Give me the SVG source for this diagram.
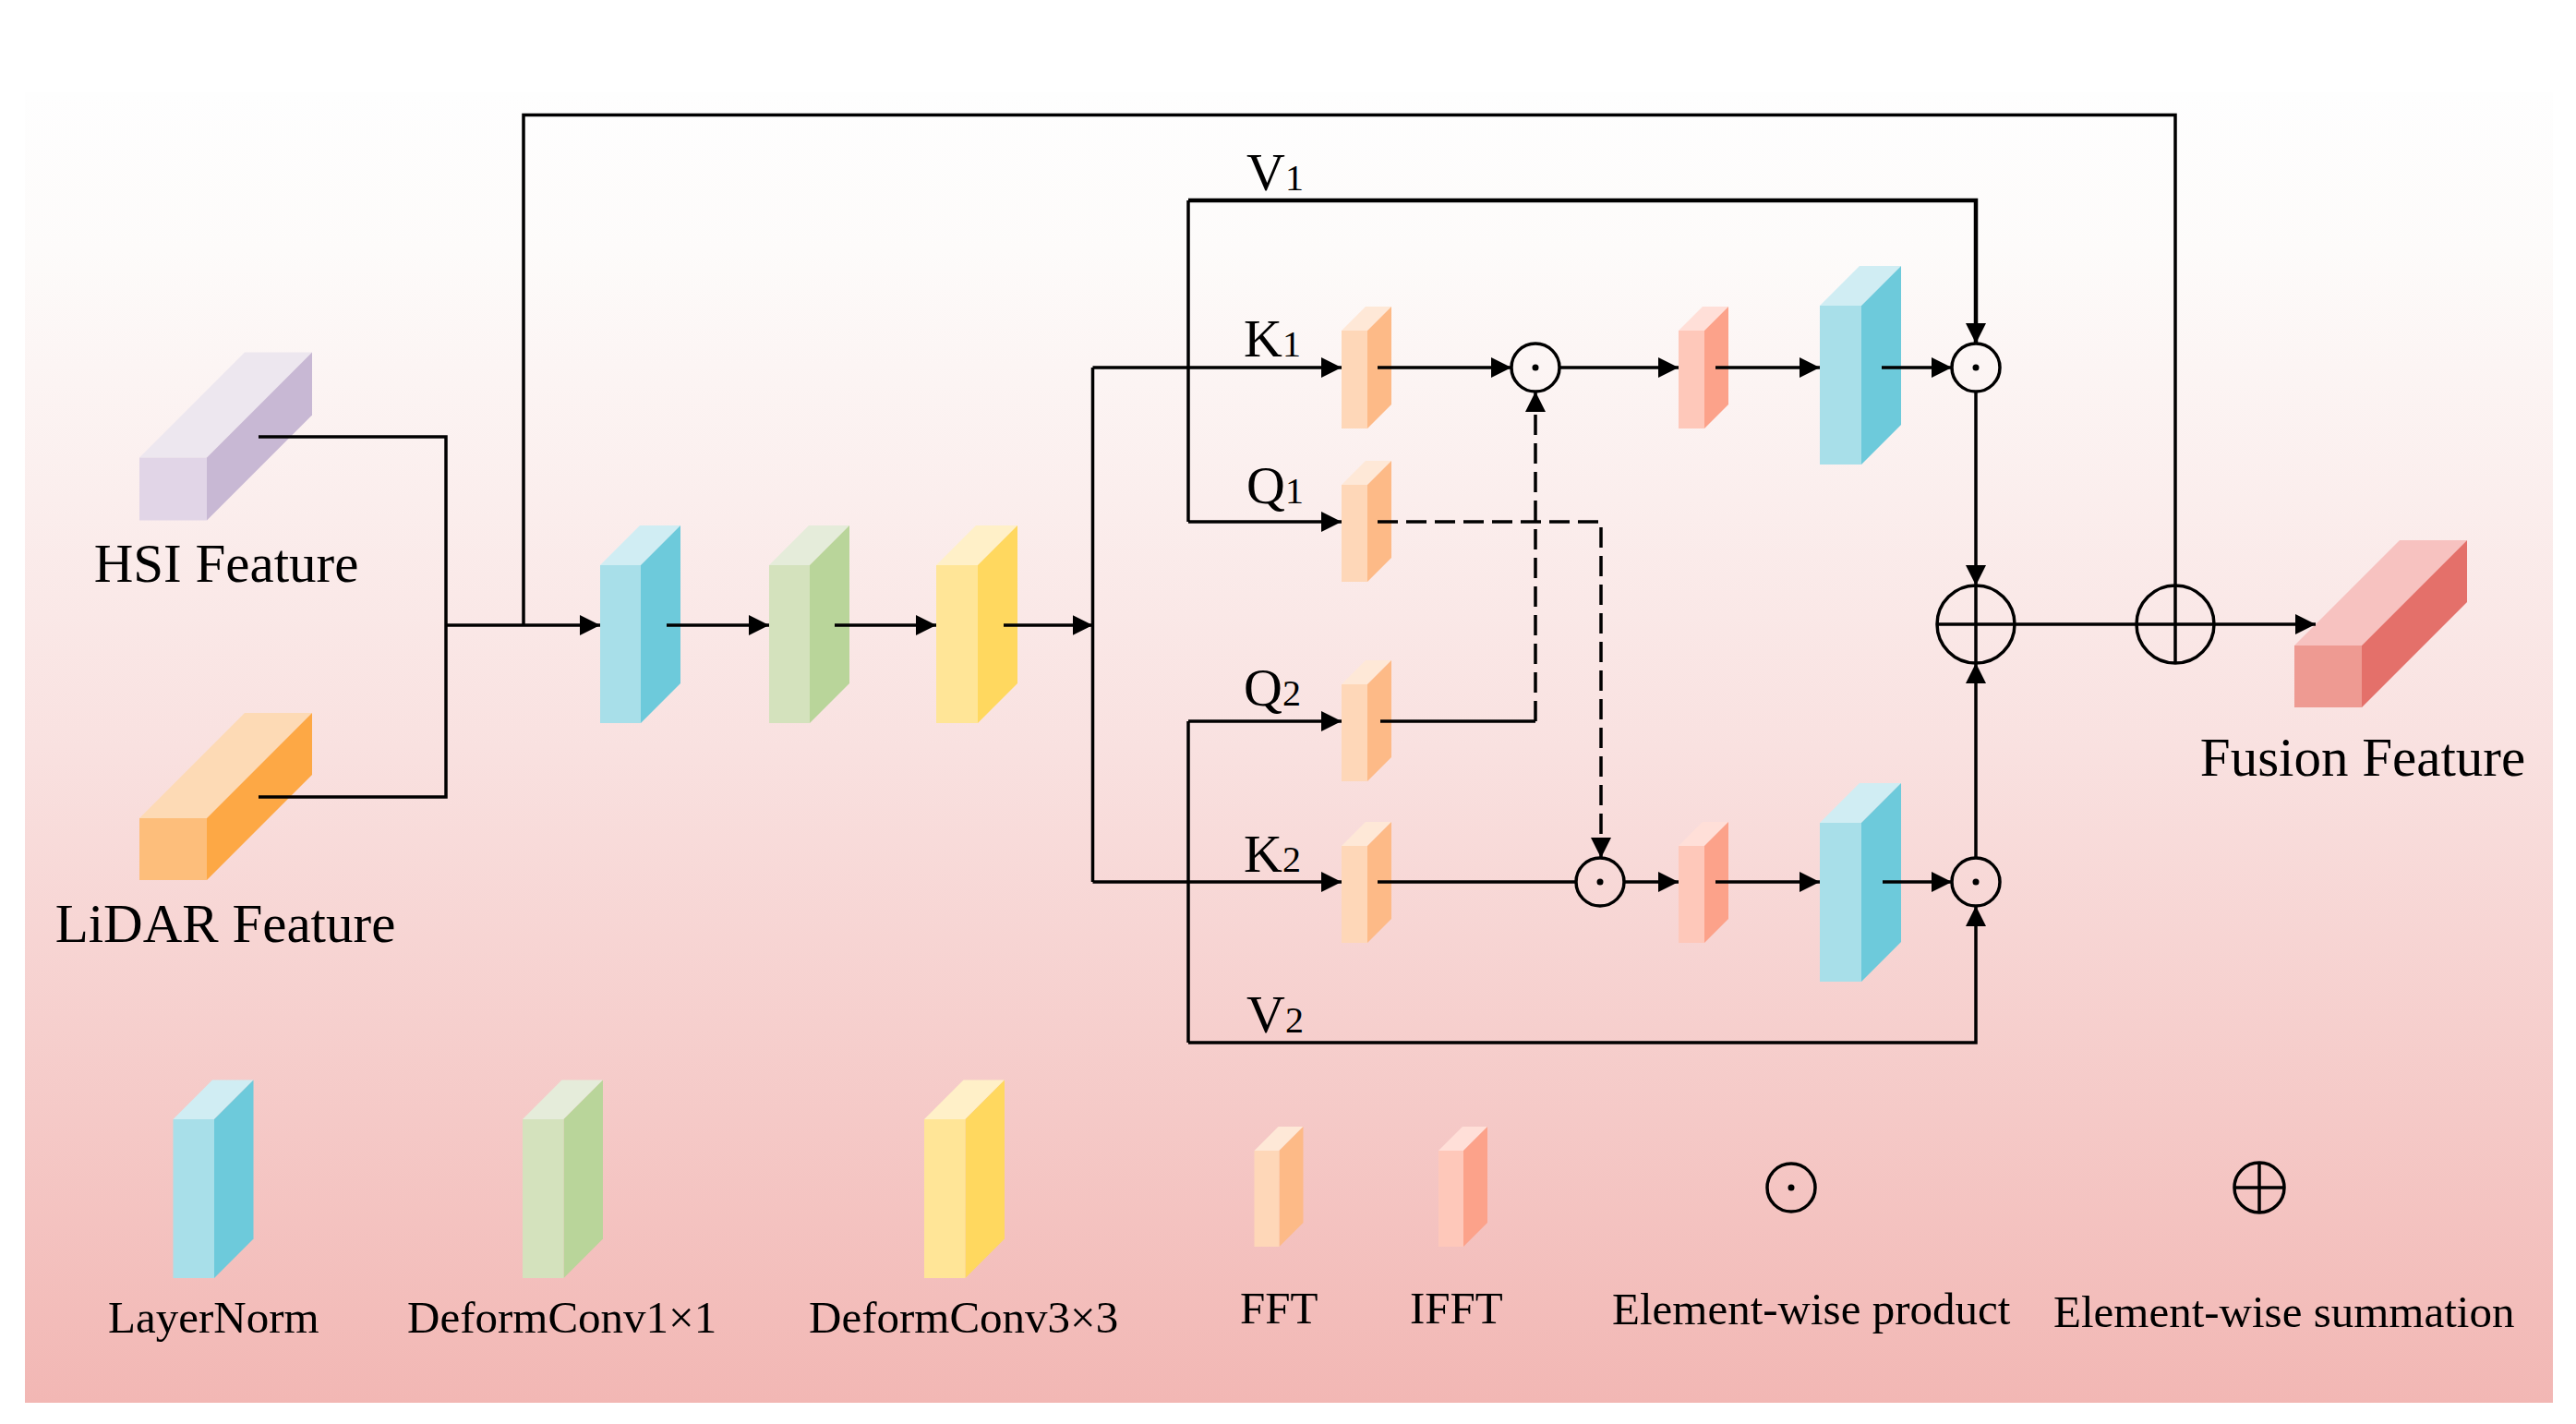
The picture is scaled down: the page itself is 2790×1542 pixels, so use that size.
<svg xmlns="http://www.w3.org/2000/svg" width="2790" height="1542" viewBox="0 0 2790 1542">
<defs>
<linearGradient id="bg" x1="0" y1="0" x2="0" y2="1">
<stop offset="0" stop-color="#FEFEFE"/>
<stop offset="0.12" stop-color="#FDFBFA"/>
<stop offset="0.5" stop-color="#F9E1E0"/>
<stop offset="1" stop-color="#F2B7B4"/>
</linearGradient>
<marker id="ah" viewBox="0 0 22 22" refX="22" refY="11" markerWidth="22" markerHeight="22" markerUnits="userSpaceOnUse" orient="auto">
<path d="M0,0 L22,11 L0,22 z" fill="#000"/>
</marker>
</defs>
<style>
.ln{fill:none;stroke:#000;stroke-width:3.5}
.da{fill:none;stroke:#000;stroke-width:3.5;stroke-dasharray:22 9}
.arr{marker-end:url(#ah)}
.op{fill:none;stroke:#000;stroke-width:3.5}
.dot{fill:#000}
.t{font-family:"Liberation Serif","Times New Roman",serif;fill:#000}
.big{font-size:59px}
.lab{font-size:58px}
.sub{font-size:40px}
.leg{font-size:49px}
.lnT{fill:#D0EDF3}.lnF{fill:#A8DFE9}.lnS{fill:#6DCADB}
.gT{fill:#E5ECDA}.gF{fill:#D4E2BD}.gS{fill:#B9D59A}
.yT{fill:#FFF0C8}.yF{fill:#FFE597}.yS{fill:#FFD85F}
.fT{fill:#FEE8D7}.fF{fill:#FED7B8}.fS{fill:#FDBA87}
.iT{fill:#FFDFD8}.iF{fill:#FEC8BA}.iS{fill:#FCA28A}
.hT{fill:#EDE7EF}.hF{fill:#E1D5E7}.hS{fill:#C8B8D4}
.lT{fill:#FDDAB5}.lF{fill:#FDBE7B}.lS{fill:#FDA845}
.uT{fill:#F7C2C0}.uF{fill:#EE9A92}.uS{fill:#E4706A}
</style>
<rect x="0" y="0" width="2790" height="1542" fill="#FFFFFF"/>
<rect x="27" y="100" width="2738" height="1419" fill="url(#bg)"/>

<!-- Input features -->
<g id="hsi">
<polygon class="hT" points="151,495.5 265,381.5 338,381.5 224,495.5"/>
<polygon class="hS" points="224,495.5 338,381.5 338,449.5 224,563.5"/>
<rect class="hF" x="151" y="495.5" width="73" height="68"/>
<text class="t big" x="245" y="630" text-anchor="middle">HSI Feature</text>
</g>
<g id="lidar">
<polygon class="lT" points="151,886 265,772 338,772 224,886"/>
<polygon class="lS" points="224,886 338,772 338,839 224,953"/>
<rect class="lF" x="151" y="886" width="73" height="67"/>
<text class="t big" x="244" y="1020" text-anchor="middle">LiDAR Feature</text>
</g>
<g id="fusion">
<polygon class="uT" points="2485,699 2599,585 2672,585 2558,699"/>
<polygon class="uS" points="2558,699 2672,585 2672,652 2558,766"/>
<rect class="uF" x="2485" y="699" width="73" height="67"/>
<text class="t big" x="2559" y="840" text-anchor="middle">Fusion Feature</text>
</g>

<!-- Main chain -->
<g id="layernorm1">
<polygon class="lnT" points="650,612 693,569 737,569 694,612"/>
<polygon class="lnS" points="694,612 737,569 737,740 694,783"/>
<rect class="lnF" x="650" y="612" width="44" height="171"/>
</g>
<g id="deform1x1">
<polygon class="gT" points="833,612 876,569 920,569 877,612"/>
<polygon class="gS" points="877,612 920,569 920,740 877,783"/>
<rect class="gF" x="833" y="612" width="44" height="171"/>
</g>
<g id="deform3x3">
<polygon class="yT" points="1014,612 1057,569 1102,569 1059,612"/>
<polygon class="yS" points="1059,612 1102,569 1102,740 1059,783"/>
<rect class="yF" x="1014" y="612" width="45" height="171"/>
</g>

<!-- FFT blocks -->
<g id="fft-k1">
<polygon class="fT" points="1453,358 1479,332 1507,332 1481,358"/>
<polygon class="fS" points="1481,358 1507,332 1507,438 1481,464"/>
<rect class="fF" x="1453" y="358" width="28" height="106"/>
</g>
<g id="fft-q1">
<polygon class="fT" points="1453,525 1479,499 1507,499 1481,525"/>
<polygon class="fS" points="1481,525 1507,499 1507,604 1481,630"/>
<rect class="fF" x="1453" y="525" width="28" height="105"/>
</g>
<g id="fft-q2">
<polygon class="fT" points="1453,741 1479,715 1507,715 1481,741"/>
<polygon class="fS" points="1481,741 1507,715 1507,820 1481,846"/>
<rect class="fF" x="1453" y="741" width="28" height="105"/>
</g>
<g id="fft-k2">
<polygon class="fT" points="1453,916 1479,890 1507,890 1481,916"/>
<polygon class="fS" points="1481,916 1507,890 1507,995 1481,1021"/>
<rect class="fF" x="1453" y="916" width="28" height="105"/>
</g>
<g id="ifft-1">
<polygon class="iT" points="1818,358 1844,332 1872,332 1846,358"/>
<polygon class="iS" points="1846,358 1872,332 1872,438 1846,464"/>
<rect class="iF" x="1818" y="358" width="28" height="106"/>
</g>
<g id="ifft-2">
<polygon class="iT" points="1818,916 1844,890 1872,890 1846,916"/>
<polygon class="iS" points="1846,916 1872,890 1872,995 1846,1021"/>
<rect class="iF" x="1818" y="916" width="28" height="105"/>
</g>
<g id="layernorm2">
<polygon class="lnT" points="1971,331 2014,288 2059,288 2016,331"/>
<polygon class="lnS" points="2016,331 2059,288 2059,460 2016,503"/>
<rect class="lnF" x="1971" y="331" width="45" height="172"/>
</g>
<g id="layernorm3">
<polygon class="lnT" points="1971,891 2014,848 2059,848 2016,891"/>
<polygon class="lnS" points="2016,891 2059,848 2059,1020 2016,1063"/>
<rect class="lnF" x="1971" y="891" width="45" height="172"/>
</g>

<!-- Operators -->
<g id="prod1"><circle class="op" cx="1663" cy="398" r="26"/><circle class="dot" cx="1663" cy="398" r="3.5"/></g>
<g id="prod2"><circle class="op" cx="2140" cy="398" r="26"/><circle class="dot" cx="2140" cy="398" r="3.5"/></g>
<g id="prod3"><circle class="op" cx="1733" cy="955" r="26"/><circle class="dot" cx="1733" cy="955" r="3.5"/></g>
<g id="prod4"><circle class="op" cx="2140" cy="955" r="26"/><circle class="dot" cx="2140" cy="955" r="3.5"/></g>
<g id="sum1"><circle class="op" cx="2140" cy="676" r="42"/></g>
<g id="sum2"><circle class="op" cx="2356" cy="676" r="42"/></g>

<!-- Branch labels -->
<g id="labels">
<text class="t lab" x="1350" y="206">V<tspan class="sub">1</tspan></text>
<text class="t lab" x="1347" y="386">K<tspan class="sub">1</tspan></text>
<text class="t lab" x="1350" y="545">Q<tspan class="sub">1</tspan></text>
<text class="t lab" x="1347" y="764">Q<tspan class="sub">2</tspan></text>
<text class="t lab" x="1347" y="944">K<tspan class="sub">2</tspan></text>
<text class="t lab" x="1350" y="1118">V<tspan class="sub">2</tspan></text>
</g>

<!-- Connectors -->
<g id="connectors">
<path class="ln" d="M280,473 H483 V863 H280"/>
<path class="ln arr" d="M483,677 H650"/>
<path class="ln" d="M567,677 V124.5 H2356 V718"/>
<path class="ln arr" d="M722,677 H833"/>
<path class="ln arr" d="M904,677 H1014"/>
<path class="ln arr" d="M1087,677 H1183.5"/>
<path class="ln" d="M1183.5,398 V955"/>
<path class="ln arr" d="M1183.5,398 H1453"/>
<path class="ln arr" d="M1183.5,955 H1453"/>
<path class="ln" d="M1287,217 V565"/>
<path class="ln arr" d="M1287,217 H2140 V372" style="stroke-width:4.5"/>
<path class="ln arr" d="M1287,565 H1453"/>
<path class="ln" d="M1287,781 V1129"/>
<path class="ln arr" d="M1287,781 H1453"/>
<path class="ln arr" d="M1287,1129 H2140 V981"/>
<path class="ln arr" d="M1492,398 H1637"/>
<path class="ln arr" d="M1689,398 H1818"/>
<path class="ln arr" d="M1858,398 H1971"/>
<path class="ln arr" d="M2038,398 H2114"/>
<path class="ln arr" d="M2140,424 V634"/>
<path class="da arr" d="M1492,565 H1734 V929"/>
<path class="ln" d="M1495,781 H1663"/>
<path class="da arr" d="M1663,781 V424"/>
<path class="ln" d="M1492,955 H1707"/>
<path class="ln arr" d="M1759,955 H1818"/>
<path class="ln arr" d="M1858,955 H1971"/>
<path class="ln arr" d="M2039,955 H2114"/>
<path class="ln arr" d="M2140,929 V718"/>
<path class="ln" d="M2140,634 V718"/>
<path class="ln arr" d="M2098,676 H2508"/>
</g>

<!-- Legend -->
<g id="legend-layernorm">
<polygon class="lnT" points="187.5,1212 230,1169.5 274.5,1169.5 232,1212"/>
<polygon class="lnS" points="232,1212 274.5,1169.5 274.5,1341.5 232,1384"/>
<rect class="lnF" x="187.5" y="1212" width="44.5" height="172"/>
<text class="t leg" x="117" y="1443">LayerNorm</text>
</g>
<g id="legend-deform1x1">
<polygon class="gT" points="566,1212 608.5,1169.5 653,1169.5 610.5,1212"/>
<polygon class="gS" points="610.5,1212 653,1169.5 653,1341.5 610.5,1384"/>
<rect class="gF" x="566" y="1212" width="44.5" height="172"/>
<text class="t leg" x="441" y="1443">DeformConv1×1</text>
</g>
<g id="legend-deform3x3">
<polygon class="yT" points="1001,1212 1043.5,1169.5 1088,1169.5 1045.5,1212"/>
<polygon class="yS" points="1045.5,1212 1088,1169.5 1088,1341.5 1045.5,1384"/>
<rect class="yF" x="1001" y="1212" width="44.5" height="172"/>
<text class="t leg" x="876" y="1443">DeformConv3×3</text>
</g>
<g id="legend-fft">
<polygon class="fT" points="1358.5,1246 1384.5,1220 1411.5,1220 1385.5,1246"/>
<polygon class="fS" points="1385.5,1246 1411.5,1220 1411.5,1324 1385.5,1350"/>
<rect class="fF" x="1358.5" y="1246" width="27" height="104"/>
<text class="t leg" x="1343" y="1433">FFT</text>
</g>
<g id="legend-ifft">
<polygon class="iT" points="1558,1246 1584,1220 1611,1220 1585,1246"/>
<polygon class="iS" points="1585,1246 1611,1220 1611,1324 1585,1350"/>
<rect class="iF" x="1558" y="1246" width="27" height="104"/>
<text class="t leg" x="1527" y="1433">IFFT</text>
</g>
<g id="legend-product">
<circle class="op" cx="1940" cy="1286" r="26"/><circle class="dot" cx="1940" cy="1286" r="3.5"/>
<text class="t leg" x="1746" y="1434">Element-wise product</text>
</g>
<g id="legend-sum">
<circle class="op" cx="2447" cy="1286" r="27"/>
<path class="ln" d="M2420,1286 H2474 M2447,1259 V1313"/>
<text class="t leg" x="2224" y="1437">Element-wise summation</text>
</g>
</svg>
